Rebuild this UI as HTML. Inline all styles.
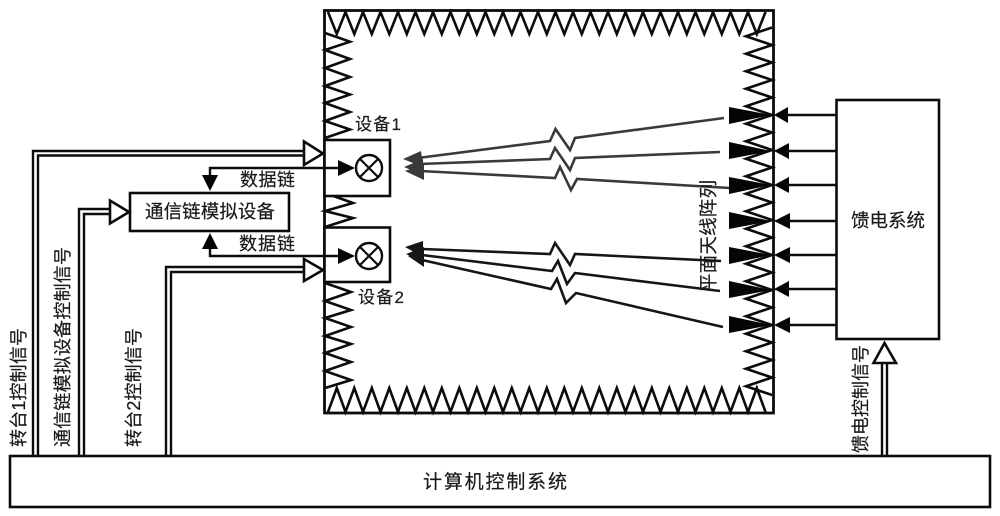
<!DOCTYPE html>
<html>
<head>
<meta charset="utf-8">
<style>
html,body{margin:0;padding:0;background:#fff;width:1000px;height:516px;overflow:hidden}
svg{display:block;filter:blur(0.35px)}
text{font-family:"Liberation Sans","Noto Sans CJK SC",sans-serif;fill:#1a1a1a;font-size:18px;stroke:#1a1a1a;stroke-width:0.2px}
</style>
</head>
<body>
<svg width="1000" height="516" viewBox="0 0 1000 516" xmlns="http://www.w3.org/2000/svg">
<rect width="1000" height="516" fill="#fff"/>

<!-- zigzags -->
<g fill="none" stroke="#0c0c0c" stroke-width="2.6">
<polyline points="328,12 336.8,34 345.5,12 354.3,34 363,12 371.8,34 380.5,12 389.3,34 398,12 406.8,34 415.5,12 424.3,34 433,12 441.8,34 450.5,12 459.3,34 468,12 476.8,34 485.5,12 494.3,34 503,12 511.8,34 520.5,12 529.3,34 538,12 546.8,34 555.5,12 564.3,34 573,12 581.8,34 590.5,12 599.3,34 608,12 616.8,34 625.5,12 634.3,34 643,12 651.8,34 660.5,12 669.3,34 678,12 686.8,34 695.5,12 704.3,34 713,12 721.8,34 730.5,12 739.3,34 748,12 756.8,34 765.5,12"/>
<polyline points="328,412 336.8,388 345.5,412 354.3,388 363,412 371.8,388 380.5,412 389.3,388 398,412 406.8,388 415.5,412 424.3,388 433,412 441.8,388 450.5,412 459.3,388 468,412 476.8,388 485.5,412 494.3,388 503,412 511.8,388 520.5,412 529.3,388 538,412 546.8,388 555.5,412 564.3,388 573,412 581.8,388 590.5,412 599.3,388 608,412 616.8,388 625.5,412 634.3,388 643,412 651.8,388 660.5,412 669.3,388 678,412 686.8,388 695.5,412 704.3,388 713,412 721.8,388 730.5,412 739.3,388 748,412 756.8,388 765.5,412"/>
<polyline points="325,33 350,41.7 325,50 350,59 325,68 350,77 325,86 350,94.5 325,103 350,112 325,121 350,129.5 325,138"/>
<polyline points="325,193 353,203 325,211 353,218 325,227"/>
<polyline points="325,283 351,292 325,301 351,310 325,318 351,327 325,336 351,344 325,353 351,362 325,371 351,380 325,388"/>
<polyline points="772,27.5 746,36.25 772,45 746,53.75 772,62.5 746,71.25 772,80 746,88.75 772,97.5 746,106.25 772,115 746,123.75 772,132.5 746,141.25 772,150 746,158.75 772,167.5 746,176.25 772,185 746,193.75 772,202.5 746,211.25 772,220 746,228.75 772,237.5 746,246.25 772,255 746,263.75 772,272.5 746,281.25 772,290 746,298.75 772,307.5 746,316.25 772,325 746,333.75 772,342.5 746,351.25 772,360 746,368.75 772,377.5 746,386.25 772,395"/>
</g>

<!-- chamber -->
<rect x="324.5" y="10.5" width="449" height="402.5" fill="none" stroke="#0c0c0c" stroke-width="2.8"/>

<!-- rays -->
<g fill="none" stroke="#3a3a3a" stroke-width="2.6">
<polyline points="418,158 550,141 555.5,129 570,150 575,138 724,118"/>
<polyline points="420,164 550,159 555,148 570,170 575,158 720,152"/>
<polyline points="420,171 555,178 560,167 571,190 577,179 730,188"/>
</g>
<g fill="none" stroke="#161616" stroke-width="2.6">
<polyline points="422,249 550,254 555,243 570,265 575,254 721,261"/>
<polyline points="422,255 552,271 558,261 567,284 575,273 720,291"/>
<polyline points="422,260 551,289 557,279 566,303 576,293 723,327"/>
</g>
<g fill="#3a3a3a">
<polygon points="403,159 421,151 423,167"/>
<polygon points="404,167 423,159 423,175"/>
<polygon points="405,171 424,164 424,180"/>
</g>
<g fill="#161616">
<polygon points="405,247 423,241 423,257"/>
<polygon points="406,254 424,247 424,263"/>
<polygon points="408,256 424,251 424,267"/>
</g>

<!-- antenna triangles -->
<g fill="#050505">
<polygon points="729,107 729,124 771,115"/>
<polygon points="729,142 729,159 771,151"/>
<polygon points="729,177 729,194 771,185"/>
<polygon points="729,212 729,229 771,221"/>
<polygon points="729,247 729,264 771,255"/>
<polygon points="729,281 729,298 771,290"/>
<polygon points="729,316 729,333 771,325"/>
<polygon points="774,115 788,107 788,123"/>
<polygon points="774,151 789,143 789,159"/>
<polygon points="774,185 789,177 789,193"/>
<polygon points="774,221 790,213 790,229"/>
<polygon points="774,255 790,247 790,263"/>
<polygon points="774,289 789,281 789,297"/>
<polygon points="774,325 790,317 790,333"/>
</g>
<g stroke="#0c0c0c" stroke-width="2.4">
<line x1="785" y1="115" x2="836" y2="115"/>
<line x1="785" y1="151" x2="836" y2="151"/>
<line x1="785" y1="185" x2="836" y2="185"/>
<line x1="785" y1="221" x2="836" y2="221"/>
<line x1="785" y1="255" x2="836" y2="255"/>
<line x1="785" y1="289" x2="836" y2="289"/>
<line x1="785" y1="325" x2="836" y2="325"/>
</g>

<!-- feed system box -->
<rect x="836.5" y="100" width="102.5" height="239" fill="#fff" stroke="#0c0c0c" stroke-width="2.6"/>

<!-- device boxes -->
<rect x="324.5" y="140" width="65.5" height="56" fill="#fff" stroke="#0c0c0c" stroke-width="2.6"/>
<rect x="324.5" y="227.5" width="65.5" height="54.5" fill="#fff" stroke="#0c0c0c" stroke-width="2.6"/>
<g fill="#fff" stroke="#0c0c0c" stroke-width="2.4">
<circle cx="369" cy="168" r="13"/>
<circle cx="369" cy="256" r="13"/>
</g>
<g stroke="#0c0c0c" stroke-width="2.2">
<line x1="360" y1="159" x2="378" y2="177"/><line x1="378" y1="159" x2="360" y2="177"/>
<line x1="360" y1="247" x2="378" y2="265"/><line x1="378" y1="247" x2="360" y2="265"/>
</g>

<!-- comm device -->
<rect x="130" y="193" width="159" height="38" fill="#fff" stroke="#0c0c0c" stroke-width="2.6"/>

<!-- data links -->
<g fill="none" stroke="#0c0c0c" stroke-width="2.4">
<polyline points="340,168 210,168 210,178"/>
<polyline points="340,256 210,256 210,246"/>
</g>
<g fill="#050505">
<polygon points="355,168 338,160 338,176"/>
<polygon points="355,256 338,248 338,264"/>
<polygon points="210,191 202,175 218,175"/>
<polygon points="210,233 202,249 218,249"/>
</g>

<!-- double lines -->
<g fill="none" stroke="#0c0c0c" stroke-width="2.4">
<polyline points="33,456 33,151 304,151"/>
<polyline points="38,456 38,155.5 304,155.5"/>
<polyline points="79,456 79,209 110,209"/>
<polyline points="84,456 84,214 110,214"/>
<polyline points="166,456 166,267 304,267"/>
<polyline points="171,456 171,272 304,272"/>
<line x1="882" y1="363" x2="882" y2="456"/>
<line x1="887" y1="363" x2="887" y2="456"/>
</g>
<g fill="#fff" stroke="#0c0c0c" stroke-width="2.6">
<polygon points="304,141.5 304,165 323,153.5"/>
<polygon points="110,200.5 110,223.5 129,212"/>
<polygon points="304,259 304,281 323,270"/>
<polygon points="884.5,343 873.5,363 896,363"/>
</g>

<!-- bottom box -->
<rect x="10" y="456" width="980" height="51" fill="#fff" stroke="#0c0c0c" stroke-width="2.6"/>

<!-- labels -->
<text x="355" y="130" style="font-size:17px" textLength="46">设备1</text>
<text x="358" y="303" style="font-size:17px" textLength="46">设备2</text>
<text x="240" y="186" style="font-size:18px" textLength="55">数据链</text>
<text x="239" y="250" style="font-size:18px" textLength="56">数据链</text>
<text x="145" y="218" style="font-size:18.5px" textLength="130">通信链模拟设备</text>
<text x="851" y="227" style="font-size:18.5px" textLength="74">馈电系统</text>
<text x="423" y="488" style="font-size:19px" textLength="144">计算机控制系统</text>
<text transform="translate(25,447) rotate(-90)" style="font-size:18px" textLength="119">转台1控制信号</text>
<text transform="translate(69,447) rotate(-90)" style="font-size:18px" textLength="200">通信链模拟设备控制信号</text>
<text transform="translate(140,447) rotate(-90)" style="font-size:18px" textLength="119">转台2控制信号</text>
<text transform="translate(867,453) rotate(-90)" style="font-size:18px" textLength="108">馈电控制信号</text>
<text transform="translate(715,292) rotate(-90)" style="font-size:18.5px" textLength="112">平面天线阵列</text>
</svg>
</body>
</html>
